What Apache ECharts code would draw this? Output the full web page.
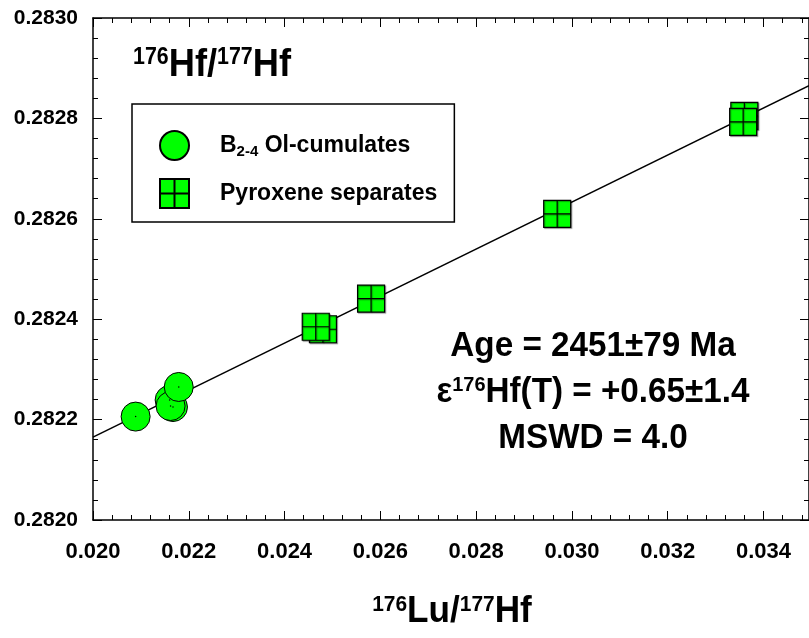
<!DOCTYPE html>
<html>
<head>
<meta charset="utf-8">
<script src="https://cdn.jsdelivr.net/npm/echarts@6/dist/echarts.min.js"></script>
<style>html,body{margin:0;padding:0;background:#fff;}#c{width:809px;height:638px;}</style>
</head>
<body>
<div id="c"></div>
<script>
// ---- data ----
const olName = 'B2-4 Ol-cumulates';
const pxName = 'Pyroxene separates';
const olX = [0.02089, 0.02160, 0.02167, 0.02162, 0.02179];
const olY = [0.282206, 0.282239, 0.282225, 0.282227, 0.282265];
const pxX = [0.024801, 0.024651, 0.025806, 0.029692, 0.033600, 0.033575];
const pxY = [0.282380, 0.282385, 0.282441, 0.282610, 0.282805, 0.282793];
const isoX = [0.0200, 0.03495];
const isoY = [0.282165, 0.282865];
const xMin = 0.020, xMax = 0.03495, xStep = 0.002;
const yMin = 0.2820, yMax = 0.2830, yStep = 0.0002;

const FONT = "'Liberation Sans Narrow','Arial Narrow','Liberation Sans',Arial,sans-serif";
const zip = (a, b) => a.map((v, i) => [v, b[i]]);
const squareCross = 'path://M0,0L20,0L20,20L0,20Z M10,0L10,20 M0,10L20,10';

const chart = echarts.init(document.getElementById('c'));
const axisCommon = {
  type: 'value',
  axisLine: { show: true, lineStyle: { color: '#000', width: 1.5 } },
  axisTick: { show: true, inside: true, length: 9, lineStyle: { color: '#000', width: 1 } },
  minorTick: { show: true, splitNumber: 5, length: 5, lineStyle: { color: '#000', width: 1 } },
  splitLine: { show: false }
};
chart.setOption({
  animation: false,
  backgroundColor: '#fff',
  grid: { left: 93, top: 18, width: 719, height: 502, containLabel: false },
  xAxis: [
    Object.assign({}, axisCommon, {
      position: 'bottom', min: xMin, max: xMax, interval: xStep,
      axisLabel: { show: true, showMaxLabel: false, margin: 21, fontFamily: FONT, fontWeight: 'bold', fontSize: 22, color: '#000',
        formatter: v => v.toFixed(3) }
    }),
    Object.assign({}, axisCommon, {
      position: 'top', min: xMin, max: xMax, interval: xStep, axisLabel: { show: false }
    })
  ],
  yAxis: [
    Object.assign({}, axisCommon, {
      position: 'left', min: yMin, max: yMax, interval: yStep,
      axisLabel: { show: true, margin: 15, fontFamily: FONT, fontWeight: 'bold', fontSize: 21, color: '#000',
        formatter: v => v.toFixed(4) }
    }),
    Object.assign({}, axisCommon, {
      position: 'right', min: yMin, max: yMax, interval: yStep, axisLabel: { show: false }
    })
  ],
  legend: {
    orient: 'vertical', left: 132, top: 104,
    padding: [26, 17, 13, 27],
    itemGap: 17, itemWidth: 29, itemHeight: 29,
    borderColor: '#000', borderWidth: 1.5,
    data: [olName, pxName],
    formatter: n => n === olName ? '{m|B}{s|2-4}{m| Ol-cumulates}' : '{m|' + n + '}',
    textStyle: {
      padding: [0, 0, 0, 26],
      rich: {
        m: { fontFamily: FONT, fontWeight: 'bold', fontSize: 23, color: '#000' },
        s: { fontFamily: FONT, fontWeight: 'bold', fontSize: 15, color: '#000', verticalAlign: 'bottom', padding: [12, 0, 0, 0] }
      }
    }
  },
  series: [
    {
      type: 'line', name: 'isochron', data: zip(isoX, isoY), showSymbol: false, silent: true,
      lineStyle: { color: '#000', width: 1.5 }, z: 1
    },
    {
      type: 'scatter', name: olName, data: zip(olX, olY), symbol: 'circle', symbolSize: 29,
      itemStyle: { color: '#00ff00', borderColor: '#000', borderWidth: 1, opacity: 1 }, z: 3
    },
    {
      type: 'scatter', name: 'olCentre', data: zip(olX, olY), symbol: 'circle', symbolSize: 1.5,
      itemStyle: { color: '#000', opacity: 1 }, z: 4, silent: true
    },
    {
      type: 'scatter', name: pxName, data: zip(pxX, pxY), symbol: squareCross, symbolSize: 27,
      itemStyle: { color: '#00ff00', borderColor: '#000', borderWidth: 1.2, opacity: 1,
        shadowColor: 'rgba(0,0,0,0.35)', shadowBlur: 1, shadowOffsetX: 1, shadowOffsetY: 1 }, z: 3
    }
  ],
  graphic: [
    {
      type: 'text', left: 133, top: 46, scaleX: 0.93,
      style: {
        text: '{s|176}{m|Hf/}{s|177}{m|Hf}',
        rich: {
          m: { fontFamily: FONT, fontWeight: 'bold', fontSize: 39, fill: '#000' },
          s: { fontFamily: FONT, fontWeight: 'bold', fontSize: 23, fill: '#000', verticalAlign: 'top' }
        }
      }
    },
    {
      type: 'text', x: 593, y: 346, scaleX: 0.95,
      style: {
        text: 'Age = 2451±79 Ma', align: 'center', verticalAlign: 'middle',
        fontFamily: FONT, fontWeight: 'bold', fontSize: 35, fill: '#000'
      }
    },
    {
      type: 'text', x: 593, y: 392, scaleX: 0.95,
      style: {
        text: '{m|ε}{s|176}{m|Hf(T) = +0.65±1.4}', align: 'center', verticalAlign: 'middle',
        rich: {
          m: { fontFamily: FONT, fontWeight: 'bold', fontSize: 35, fill: '#000' },
          s: { fontFamily: FONT, fontWeight: 'bold', fontSize: 21, fill: '#000', verticalAlign: 'top' }
        }
      }
    },
    {
      type: 'text', x: 593, y: 438, scaleX: 0.95,
      style: {
        text: 'MSWD = 4.0', align: 'center', verticalAlign: 'middle',
        fontFamily: FONT, fontWeight: 'bold', fontSize: 35, fill: '#000'
      }
    },
    {
      type: 'text', x: 452, y: 612, scaleX: 0.95,
      style: {
        text: '{s|176}{m|Lu/}{s|177}{m|Hf}', align: 'center', verticalAlign: 'middle',
        rich: {
          m: { fontFamily: FONT, fontWeight: 'bold', fontSize: 37, fill: '#000' },
          s: { fontFamily: FONT, fontWeight: 'bold', fontSize: 22, fill: '#000', verticalAlign: 'top' }
        }
      }
    }
  ]
});
</script>
</body>
</html>
